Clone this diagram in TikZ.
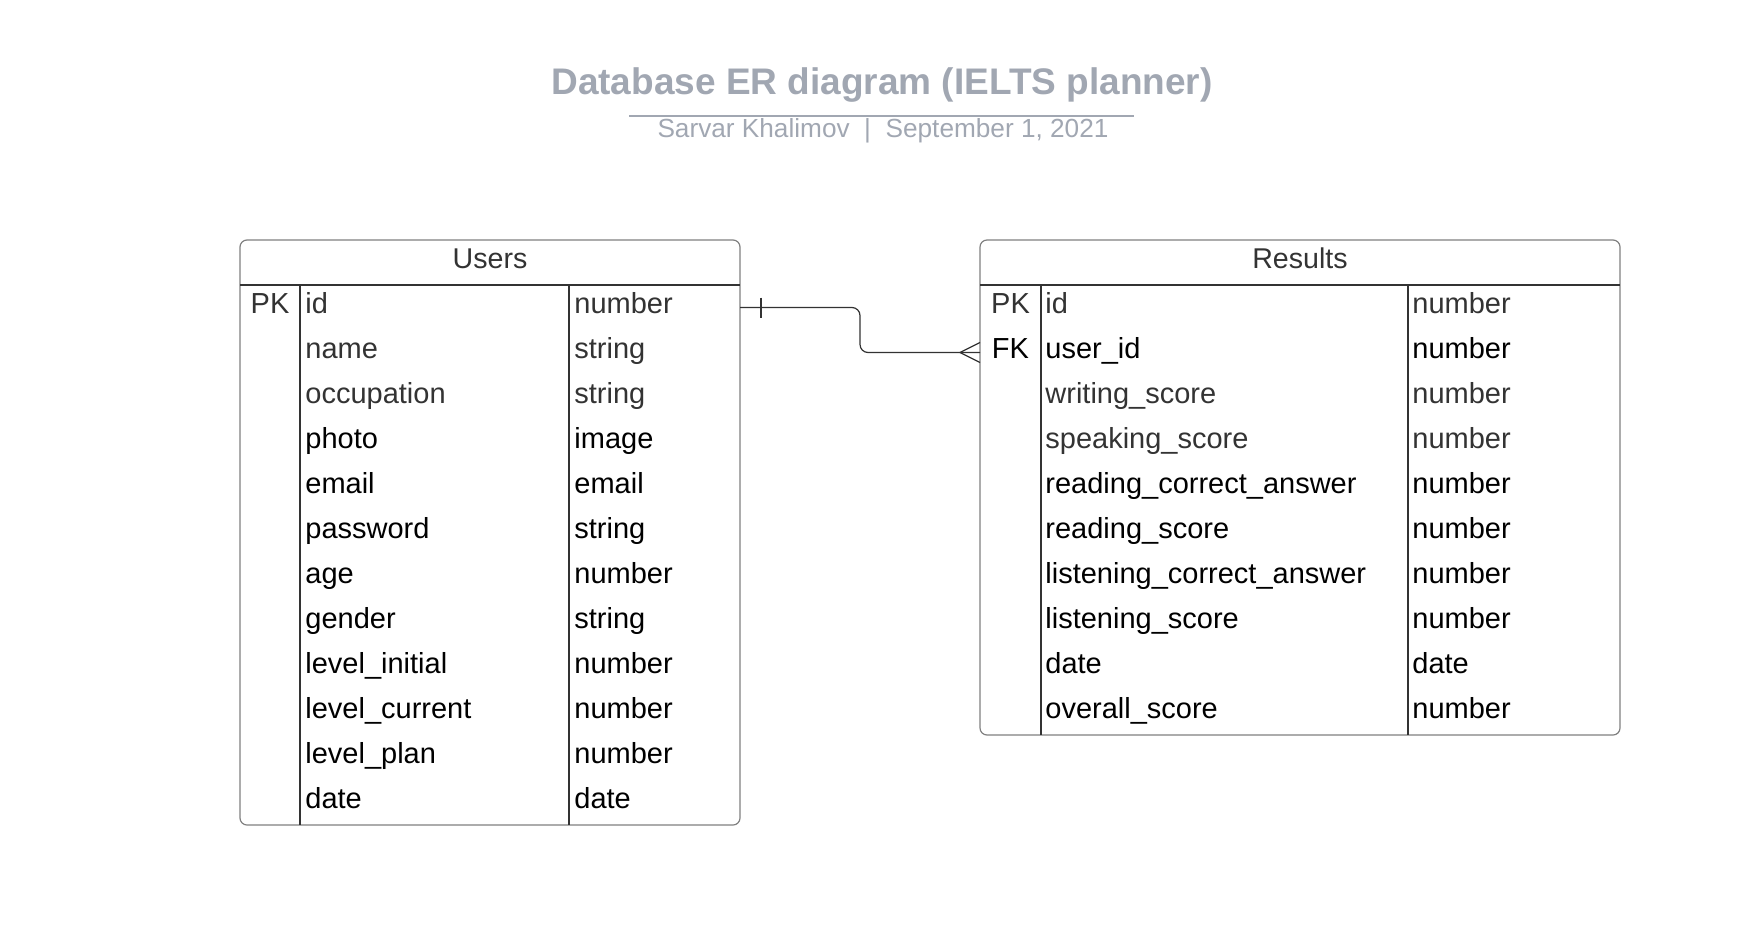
\documentclass[tikz,border=0pt]{standalone}
\usepackage{fontspec}
\setmainfont{Liberation Sans}
\definecolor{titlegrey}{RGB}{161,167,178}
\definecolor{framegrey}{RGB}{128,128,128}
\definecolor{rulegrey}{RGB}{51,51,51}
\definecolor{textgrey}{RGB}{51,51,51}
\tikzset{
  cell/.style={anchor=base west,inner sep=0pt,font=\fontsize{14.5}{17}\selectfont},
  keycell/.style={anchor=base,inner sep=0pt,font=\fontsize{14.5}{17}\selectfont},
  headcell/.style={anchor=base,inner sep=0pt,text=textgrey,font=\fontsize{14.3}{17}\selectfont},
  rowbox/.style={minimum height=22.5pt,inner sep=0pt,outer sep=0pt},
  frame/.style={draw=framegrey,line width=0.6pt,rounded corners=3.5pt},
  rule/.style={draw=rulegrey,line width=0.6pt},
  link/.style={draw=rulegrey,line width=0.6pt}
}
\begin{document}
\begin{tikzpicture}[x=0.5pt,y=-0.5pt]
\useasboundingbox (0,0) rectangle (1760,927);
% title
\node[anchor=base,inner sep=0pt,text=titlegrey,font=\bfseries\fontsize{18.5}{22}\selectfont] (title) at (882,94) {Database ER diagram (IELTS planner)};
\draw[titlegrey,line width=0.6pt] (629,116) -- (1134,116);
\node[anchor=base,inner sep=0pt,text=titlegrey,font=\fontsize{13.1}{16}\selectfont] (subtitle) at (883,137) {Sarvar Khalimov\ \ |\ \ September 1, 2021};

% Users
\draw[frame] (240,240) rectangle (740,825);
\node[headcell] (usershead) at (490,268) {Users};
\draw[rule] (240,285) -- (740,285);
\draw[rule] (300,285) -- (300,825);
\draw[rule] (569,285) -- (569,825);
\foreach \k/\n/\t/\c [count=\i] in {PK/id/number/textgrey, /name/string/textgrey, /occupation/string/textgrey,
  /photo/image/black, /email/email/black, /password/string/black, /age/number/black, /gender/string/black,
  /level\_initial/number/black, /level\_current/number/black, /level\_plan/number/black, /date/date/black}
{
  \node[rowbox,minimum width=250pt] (urow\i) at (490,262.5+45*\i) {};
  \node[keycell,text=\c] (ukey\i) at (270,268+45*\i) {\k};
  \node[cell,text=\c] (uname\i) at (305,268+45*\i) {\n};
  \node[cell,text=\c] (utype\i) at (574,268+45*\i) {\t};
}

% Results
\draw[frame] (980,240) rectangle (1620,735);
\node[headcell] (resultshead) at (1300,268) {Results};
\draw[rule] (980,285) -- (1620,285);
\draw[rule] (1041,285) -- (1041,735);
\draw[rule] (1408,285) -- (1408,735);
\foreach \k/\n/\t/\c [count=\i] in {PK/id/number/textgrey, FK/user\_id/number/black, /writing\_score/number/textgrey,
  /speaking\_score/number/textgrey, /reading\_correct\_answer/number/black, /reading\_score/number/black,
  /listening\_correct\_answer/number/black, /listening\_score/number/black, /date/date/black, /overall\_score/number/black}
{
  \node[rowbox,minimum width=320pt] (rrow\i) at (1300,262.5+45*\i) {};
  \node[keycell,text=\c] (rkey\i) at (1010.5,268+45*\i) {\k};
  \node[cell,text=\c] (rname\i) at (1045,268+45*\i) {\n};
  \node[cell,text=\c] (rtype\i) at (1412,268+45*\i) {\t};
}

% one-to-many
\draw[link,rounded corners=4pt] (urow1.east) -- ++(120,0) |- (rrow2.west);
\path (urow1.east) ++(21,0) coordinate (onebar);
\draw[link] (onebar) ++(0,-10) -- ++(0,20);
\path (rrow2.west) ++(-20,0) coordinate (crow);
\draw[link] (crow) -- ++(20,-10) (crow) -- ++(20,10);
\end{tikzpicture}
\end{document}
